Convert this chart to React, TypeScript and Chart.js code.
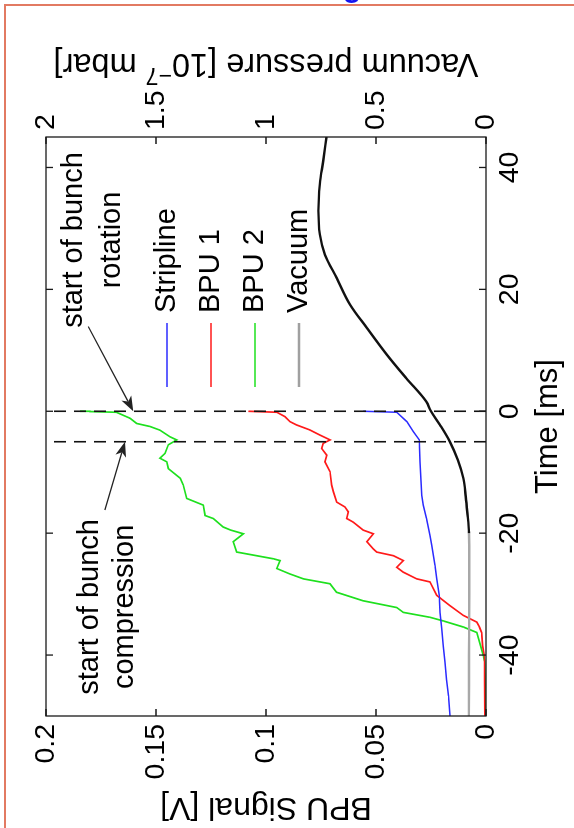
import React, { useEffect, useRef } from "react";
import { Chart, registerables } from "chart.js";

Chart.register(...registerables);

// ---- tick labels ----
const timeTicks = [-40, -20, 0, 20, 40];
const bpuTicks = [0, 0.05, 0.1, 0.15, 0.2];
const vacTicks = [0, 0.5, 1, 1.5, 2];

// ---- series (time in ms) ----
const striplineTime = [-50, -46.7, -44, -41.2, -38.5, -35.7, -33, -30.2, -27.5, -25.3, -22, -20.4, -17.6, -15.4, -13.8, -8.3, -4.7, -3.35, -1.7, -0.16, 0];
const striplineSignal = [0.0164, 0.0171, 0.0179, 0.0186, 0.0194, 0.0201, 0.0209, 0.0212, 0.0224, 0.0232, 0.0247, 0.0255, 0.027, 0.0285, 0.0292, 0.03, 0.0303, 0.033, 0.036, 0.0406, 0.0558];

const bpu1Time = [-50, -44, -40, -38.5, -36.3, -35.4, -34.6, -33.5, -31.9, -30.2, -28.0, -27.5, -26.4, -25.6, -24.5, -23.7, -23.1, -22.6, -21.4, -20.1, -19.5, -18.2, -17.6, -16.5, -15.7, -14.9, -13.2, -12.1, -9.9, -8.3, -7.2, -6.1, -5.27, -4.7, -3.9, -3.07, -2.25, -1.7, -0.88, -0.16, 0];
const bpu1Signal = [0.0005, 0.0006, 0.0008, 0.0015, 0.002, 0.003, 0.0042, 0.0103, 0.0164, 0.0224, 0.0255, 0.0315, 0.0376, 0.0406, 0.0376, 0.0421, 0.0497, 0.0512, 0.0542, 0.0512, 0.0558, 0.0603, 0.0633, 0.0626, 0.0641, 0.0679, 0.0694, 0.0702, 0.0709, 0.0732, 0.0724, 0.0747, 0.074, 0.0709, 0.0755, 0.08, 0.0861, 0.0891, 0.0914, 0.0951, 0.108];

const bpu2Time = [-50, -45, -41, -40.1, -36.3, -35.4, -34.4, -33.8, -33.0, -32.2, -31.1, -29.7, -28.3, -27.5, -26.7, -25.8, -24.5, -24.2, -23.1, -21.4, -20.1, -19.5, -19.0, -17.6, -17.1, -15.4, -14.3, -12.1, -11.0, -9.4, -8.3, -7.7, -6.9, -5.5, -4.7, -4.2, -3.1, -2.5, -2.0, -1.15, -0.16, -0.05, 0];
const bpu2Signal = [0.0004, 0.0004, 0.0006, 0.0012, 0.0042, 0.0103, 0.0194, 0.0255, 0.0376, 0.0406, 0.0558, 0.0679, 0.0709, 0.083, 0.0891, 0.0951, 0.0936, 0.0967, 0.1133, 0.1149, 0.1103, 0.1160, 0.1194, 0.124, 0.1277, 0.1285, 0.136, 0.1376, 0.139, 0.1444, 0.1451, 0.1482, 0.1459, 0.1444, 0.1406, 0.1436, 0.1482, 0.1527, 0.1588, 0.1618, 0.168, 0.18, 0.1845];

const vacuumTime = [-50, -40, -30, -25, -20, -16.5, -14, -11, -8, -5, -2.25, 0, 1.6, 5.4, 9.3, 13.7, 17.5, 21.9, 25.7, 29, 32.9, 37.3, 41.1, 45];
const vacuumPressure = [0.078, 0.077, 0.076, 0.076, 0.077, 0.085, 0.092, 0.103, 0.128, 0.164, 0.209, 0.25, 0.272, 0.362, 0.451, 0.542, 0.618, 0.679, 0.732, 0.755, 0.762, 0.755, 0.74, 0.725];

// dashed event markers (ms)
const markerTimes = [0, -5];

const legendLabels = ["Stripline", "BPU 1", "BPU 2", "Vacuum"];
const legendColors = ["#2b2bff", "#ff1a1a", "#1ee01e", "#a0a0a0"];

// annotations: [time, signal] in data units
const rotationText = ["start of bunch", "rotation"];
const rotationTextPos = { t: 28.1, v: [0.1836, 0.1664] };
const rotationArrow = { from: [13.9, 0.1808], to: [0, 0.1603] };
const compressionText = ["start of bunch", "compression"];
const compressionTextPos = { t: -32.1, v: [0.1764, 0.1605] };
const compressionArrow = { from: [-16.2, 0.1732], to: [-5, 0.1641] };

const FONT = '"Liberation Sans", Arial, sans-serif';

const zip = (xs: number[], ys: number[]) => xs.map((x, i) => ({ x, y: ys[i] }));

function drawArrow(ctx: CanvasRenderingContext2D, x0: number, y0: number, x1: number, y1: number) {
  const ang = Math.atan2(y1 - y0, x1 - x0);
  const hl = 15, hw = 5.5, back = 11;
  const c = Math.cos(ang), s = Math.sin(ang);
  const bx = x1 - hl * c, by = y1 - hl * s;
  const ix = x1 - back * c, iy = y1 - back * s;
  ctx.beginPath();
  ctx.moveTo(x0, y0);
  ctx.lineTo(ix, iy);
  ctx.stroke();
  ctx.beginPath();
  ctx.moveTo(x1, y1);
  ctx.lineTo(bx - hw * s, by + hw * c);
  ctx.lineTo(ix, iy);
  ctx.lineTo(bx + hw * s, by - hw * c);
  ctx.closePath();
  ctx.fill();
}

const overlay = {
  id: "overlay",
  afterDatasetsDraw(chart: any) {
    const { ctx, chartArea: a, scales } = chart;
    const xs = scales.x, ys = scales.y, y1s = scales.y1;
    ctx.save();
    // box
    ctx.strokeStyle = "#1a1a1a";
    ctx.lineWidth = 1.3;
    ctx.strokeRect(a.left, a.top, a.right - a.left, a.bottom - a.top);
    // inward ticks
    const tl = 7;
    ctx.beginPath();
    for (const t of timeTicks) {
      const px = xs.getPixelForValue(t);
      ctx.moveTo(px, a.bottom); ctx.lineTo(px, a.bottom - tl);
      ctx.moveTo(px, a.top); ctx.lineTo(px, a.top + tl);
    }
    for (const v of bpuTicks) {
      const py = ys.getPixelForValue(v);
      ctx.moveTo(a.left, py); ctx.lineTo(a.left + tl, py);
    }
    for (const v of vacTicks) {
      const py = y1s.getPixelForValue(v);
      ctx.moveTo(a.right, py); ctx.lineTo(a.right - tl, py);
    }
    ctx.stroke();

    // legend
    ctx.font = `29px ${FONT}`;
    ctx.textAlign = "left";
    ctx.textBaseline = "middle";
    legendLabels.forEach((lab, i) => {
      const yy = a.top + 121 + i * 44;
      ctx.strokeStyle = legendColors[i];
      ctx.lineWidth = i === 3 ? 2.4 : 1.7;
      ctx.beginPath();
      ctx.moveTo(a.left + 329, yy); ctx.lineTo(a.left + 393, yy);
      ctx.stroke();
      ctx.fillStyle = "#000";
      ctx.fillText(lab, a.left + 403, yy);
    });

    // annotation texts
    ctx.textAlign = "center";
    ctx.textBaseline = "alphabetic";
    ctx.fillStyle = "#000";
    rotationText.forEach((s, i) => {
      ctx.fillText(s, xs.getPixelForValue(rotationTextPos.t), ys.getPixelForValue(rotationTextPos.v[i]));
    });
    compressionText.forEach((s, i) => {
      ctx.fillText(s, xs.getPixelForValue(compressionTextPos.t), ys.getPixelForValue(compressionTextPos.v[i]));
    });

    // arrows
    ctx.strokeStyle = "#222";
    ctx.fillStyle = "#222";
    ctx.lineWidth = 1.3;
    for (const ar of [rotationArrow, compressionArrow]) {
      drawArrow(ctx,
        xs.getPixelForValue(ar.from[0]), ys.getPixelForValue(ar.from[1]),
        xs.getPixelForValue(ar.to[0]), ys.getPixelForValue(ar.to[1]));
    }

    // axis titles
    ctx.fillStyle = "#000";
    ctx.font = `31px ${FONT}`;
    ctx.textAlign = "center";
    ctx.textBaseline = "alphabetic";
    const cx = (a.left + a.right) / 2;
    const cy = (a.top + a.bottom) / 2;
    ctx.fillText("Time [ms]", cx, 557);

    ctx.save();
    ctx.font = `32px ${FONT}`;
    ctx.translate(30, cy);
    ctx.rotate(-Math.PI / 2);
    ctx.fillText("BPU Signal [V]", 0, 0);
    ctx.restore();

    ctx.save();
    ctx.translate(774, cy);
    ctx.rotate(-Math.PI / 2);
    const mainF = `32.5px ${FONT}`, supF = `23px ${FONT}`;
    const parts: [string, string, number][] = [
      ["Vacuum pressure [10", mainF, 0],
      ["\u22127", supF, -14],
      [" mbar]", mainF, 0],
    ];
    let total = 0;
    for (const p of parts) { ctx.font = p[1]; total += ctx.measureText(p[0]).width; }
    let x0 = -total / 2;
    ctx.textAlign = "left";
    for (const p of parts) {
      ctx.font = p[1];
      ctx.fillText(p[0], x0, p[2]);
      x0 += ctx.measureText(p[0]).width;
    }
    ctx.restore();

    ctx.restore();
  },
};

export default function App() {
  const ref = useRef<HTMLCanvasElement>(null);
  useEffect(() => {
    if (!ref.current) return;
    const tickFont = { family: FONT, size: 28.5 };
    const chart = new Chart(ref.current, {
      type: "line",
      data: {
        datasets: [
          { label: "Stripline", data: zip(striplineTime, striplineSignal), borderColor: legendColors[0], borderWidth: 1.5, yAxisID: "y", order: 2 },
          { label: "BPU 1", data: zip(bpu1Time, bpu1Signal), borderColor: legendColors[1], borderWidth: 1.7, yAxisID: "y", order: 3 },
          { label: "BPU 2", data: zip(bpu2Time, bpu2Signal), borderColor: legendColors[2], borderWidth: 1.7, yAxisID: "y", order: 4 },
          {
            label: "Vacuum", data: zip(vacuumTime, vacuumPressure), borderColor: "#111", borderWidth: 2.4, yAxisID: "y1", order: 1,
            cubicInterpolationMode: "monotone",
            segment: { borderColor: (c: any) => (c.p1.parsed.x <= -19 ? "#a8a8a8" : "#111") },
          },
          ...markerTimes.map((t) => ({
            label: "marker",
            data: [{ x: t, y: bpuTicks[0] }, { x: t, y: bpuTicks[bpuTicks.length - 1] }],
            borderColor: "#111", borderWidth: 1.6, borderDash: [12, 8], yAxisID: "y", order: 0,
          })),
        ] as any,
      },
      options: {
        animation: false,
        responsive: false,
        devicePixelRatio: 1,
        elements: { point: { radius: 0 }, line: { tension: 0, fill: false } },
        layout: { padding: { top: 46, left: 0, right: 0, bottom: 0 } },
        plugins: { legend: { display: false }, tooltip: { enabled: false } },
        scales: {
          x: {
            type: "linear", position: "bottom", min: -50, max: 45,
            grid: { display: false, drawTicks: false }, border: { display: false },
            ticks: { font: tickFont, color: "#000", padding: 7, maxRotation: 0, autoSkip: false, callback: (v: any) => String(v) },
            afterBuildTicks: (s: any) => { s.ticks = timeTicks.map((v) => ({ value: v })); },
            afterFit: (s: any) => { s.height = 88; },
          },
          y: {
            type: "linear", position: "left", min: 0, max: 0.2,
            grid: { display: false, drawTicks: false }, border: { display: false },
            ticks: { font: tickFont, color: "#000", padding: 8, autoSkip: false, callback: (v: any) => String(v) },
            afterBuildTicks: (s: any) => { s.ticks = bpuTicks.map((v) => ({ value: v })); },
            afterFit: (s: any) => { s.width = 112; },
          },
          y1: {
            type: "linear", position: "right", min: 0, max: 2,
            grid: { display: false, drawTicks: false }, border: { display: false },
            ticks: { font: tickFont, color: "#000", padding: 7, autoSkip: false, callback: (v: any) => String(v) },
            afterBuildTicks: (s: any) => { s.ticks = vacTicks.map((v) => ({ value: v })); },
            afterFit: (s: any) => { s.width = 137; },
          },
        },
      } as any,
      plugins: [overlay as any],
    });
    return () => chart.destroy();
  }, []);

  return (
    <>
      <div style={{ position: "fixed", left: 4, top: 4, right: 0, bottom: 0, borderLeft: "2px solid #e27a62", borderTop: "2px solid #e27a62" }} />
      <div style={{ position: "fixed", left: 343, top: -28, font: `bold 30px ${FONT}`, lineHeight: "30px", color: "#1414f0" }}>g</div>
      <div style={{ position: "fixed", left: 0, top: 0, width: 828, height: 574, transformOrigin: "0 0", transform: "translate(0px, 828px) rotate(-90deg)" }}>
        <canvas ref={ref} width={828} height={574} style={{ width: 828, height: 574, display: "block" }} />
      </div>
    </>
  );
}
